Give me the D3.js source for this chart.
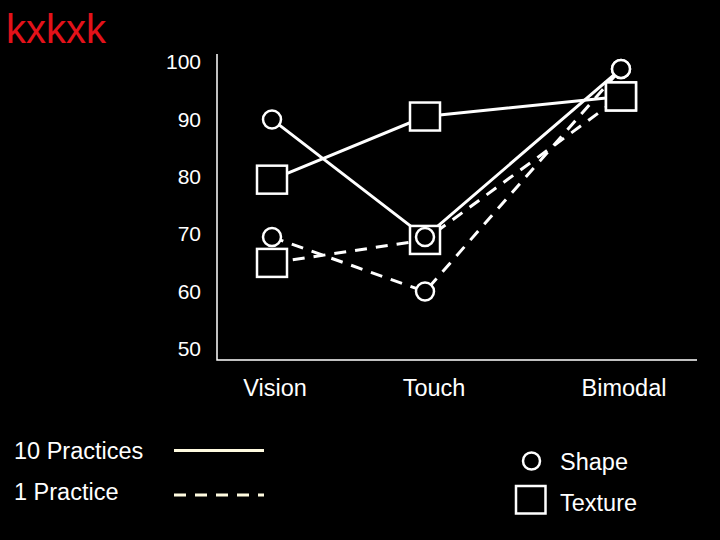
<!DOCTYPE html>
<html>
<head>
<meta charset="utf-8">
<script src="https://cdn.jsdelivr.net/npm/d3@7"></script>
<style>
  html, body { margin: 0; padding: 0; background: #000; }
  svg { display: block; font-family: "Liberation Sans", Arial, sans-serif; }
</style>
</head>
<body>
<svg id="chart" width="720" height="540"></svg>
<script>
// data
const categories = ["Vision", "Touch", "Bimodal"];
const yTicks = [50, 60, 70, 80, 90, 100];
const shape10 = [90, 69.5, 98.8];
const texture10 = [79.5, 90.5, 94];
const shape1 = [69.5, 60, 98.8];
const texture1 = [65, 69, 94];

const series = [
  { name: "Shape, 10 Practices", values: shape10, marker: "circle", dashed: false },
  { name: "Texture, 10 Practices", values: texture10, marker: "square", dashed: false },
  { name: "Shape, 1 Practice", values: shape1, marker: "circle", dashed: true },
  { name: "Texture, 1 Practice", values: texture1, marker: "square", dashed: true }
];

const svg = d3.select("#chart");
svg.append("rect").attr("width", 720).attr("height", 540).attr("fill", "#000");

// layout
const axisX = 217, axisTop = 54, axisBottom = 360, axisRight = 697;
const x = d3.scaleOrdinal().domain(categories).range([272, 425, 621]);
const y = d3.scaleLinear().domain([50, 100]).range([349, 62]);
const labelShift = [3, 9, 3];

// title
svg.append("text")
  .attr("x", 6).attr("y", 43)
  .attr("fill", "#e3121a")
  .attr("font-size", 40)
  .text("kxkxk");

// axes
const yAxis = svg.append("g")
  .attr("transform", `translate(${axisX},0)`)
  .call(d3.axisLeft(y).tickValues(yTicks).tickSize(0).tickPadding(16));
yAxis.select(".domain").remove();
yAxis.selectAll("text")
  .attr("fill", "#fff")
  .attr("font-size", 21)
  .attr("font-family", "Liberation Sans, Arial, sans-serif");

svg.append("path")
  .attr("d", `M${axisX},${axisTop}V${axisBottom}H${axisRight}`)
  .attr("fill", "none")
  .attr("stroke", "#fff")
  .attr("stroke-width", 1.5);

svg.append("g").selectAll("text")
  .data(categories)
  .join("text")
  .attr("x", (d, i) => x(d) + labelShift[i])
  .attr("y", 396)
  .attr("text-anchor", "middle")
  .attr("fill", "#fff")
  .attr("font-size", 23.5)
  .text(d => d);

// lines first, markers (black filled) on top
const line = d3.line()
  .x((d, i) => x(categories[i]))
  .y(d => y(d));

svg.append("g").selectAll("path")
  .data(series)
  .join("path")
  .attr("d", d => line(d.values))
  .attr("fill", "none")
  .attr("stroke", "#fff")
  .attr("stroke-width", 3)
  .attr("stroke-dasharray", d => d.dashed ? "12,9" : null);

const pts = series.flatMap(s => s.values.map((v, i) => ({ cat: categories[i], v, marker: s.marker })));

svg.append("g").selectAll("rect")
  .data(pts.filter(p => p.marker === "square"))
  .join("rect")
  .attr("x", d => x(d.cat) - 15)
  .attr("y", d => y(d.v) - 14)
  .attr("width", 30)
  .attr("height", 28)
  .attr("fill", "#000")
  .attr("stroke", "#fff")
  .attr("stroke-width", 2.5);

svg.append("g").selectAll("circle")
  .data(pts.filter(p => p.marker === "circle"))
  .join("circle")
  .attr("cx", d => x(d.cat))
  .attr("cy", d => y(d.v))
  .attr("r", 9)
  .attr("fill", "#000")
  .attr("stroke", "#fff")
  .attr("stroke-width", 2.5);

// legend
const legend = svg.append("g").attr("font-size", 23.5).attr("fill", "#fff");
legend.append("text").attr("x", 14).attr("y", 459).text("10 Practices");
legend.append("text").attr("x", 14).attr("y", 500).text("1 Practice");
legend.append("line")
  .attr("x1", 174).attr("x2", 264).attr("y1", 450.5).attr("y2", 450.5)
  .attr("stroke", "#fffbe0").attr("stroke-width", 3);
legend.append("line")
  .attr("x1", 174).attr("x2", 264).attr("y1", 495).attr("y2", 495)
  .attr("stroke", "#fffbe0").attr("stroke-width", 3)
  .attr("stroke-dasharray", "12,9");

legend.append("circle")
  .attr("cx", 531.5).attr("cy", 461).attr("r", 8.5)
  .attr("fill", "#000").attr("stroke", "#fff").attr("stroke-width", 2.5);
legend.append("rect")
  .attr("x", 516).attr("y", 486).attr("width", 29.5).attr("height", 27.5)
  .attr("fill", "#000").attr("stroke", "#fff").attr("stroke-width", 2.5);
legend.append("text").attr("x", 560).attr("y", 470).text("Shape");
legend.append("text").attr("x", 560).attr("y", 511).text("Texture");
</script>
</body>
</html>
